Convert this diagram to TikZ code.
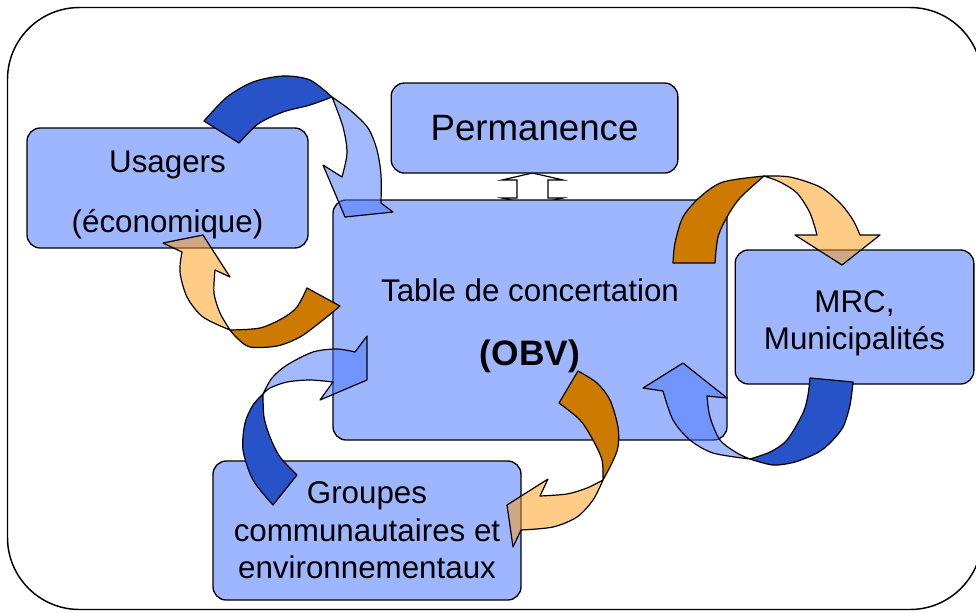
\documentclass[tikz,border=0pt]{standalone}
\usepackage{fontspec}
\setmainfont{Liberation Sans}
\usepackage{tikz}
\usetikzlibrary{positioning}

\definecolor{boxblue}{RGB}{158,182,255}
\definecolor{darkblue}{RGB}{40,82,200}
\definecolor{paleblue}{RGB}{71,115,255}
\definecolor{darkorange}{RGB}{204,122,0}
\definecolor{paleorange}{RGB}{255,153,17}

\tikzset{
  boxnode/.style={draw, line width=1pt, fill=boxblue, rounded corners=10pt, align=center,
    inner sep=0pt, font=\fontsize{23.5}{28}\selectfont},
  band/.style={draw, line width=0.9pt, line join=round},
  bluetail/.style={band, fill=darkblue},
  bluehead/.style={band, fill=paleblue, fill opacity=0.5},
  orangetail/.style={band, fill=darkorange},
  orangehead/.style={band, fill=paleorange, fill opacity=0.5},
}

\begin{document}
\begin{tikzpicture}[x=0.75pt,y=-0.75pt]
      \path[use as bounding box, clip] (0,0) rectangle (976,612);
      \draw[line width=1.1pt, rounded corners=54pt] (7.5,7.5) rectangle (982,609.5);

      % double arrow between Permanence and the table
      \draw[line width=0.9pt, fill=white] (532.5,173) -- (563,180) -- (548,180) -- (548,198) -- (563,198)
        -- (532.5,205) -- (502,198) -- (517,198) -- (517,180) -- (502,180) -- cycle;

      \node[boxnode, minimum width=215pt, minimum height=67.5pt, font=\fontsize{27.5}{33}\selectfont]
        (perm) at (534.5,128) {Permanence};
      \node[boxnode, minimum width=210.75pt, minimum height=90pt] (usagers) at (167.5,188)
        {\rule{0pt}{26pt}Usagers\\[17pt](économique)};
      \node[boxnode, minimum width=295.5pt, minimum height=180pt] (table) at (530,320)
        {\rule{0pt}{25pt}Table de concertation\\[20pt]{\fontsize{26.5}{28}\selectfont\bfseries (OBV)}};
      \node[boxnode, minimum width=179pt, minimum height=100.5pt] (mrc) at (854.5,317)
        {\rule{0pt}{26pt}MRC,\\Municipalités};
      \node[boxnode, minimum width=231pt, minimum height=104.25pt] (groupes) at (367,530.5)
        {Groupes\\communautaires et\\environnementaux};

      % usagers -> table
      \draw[bluetail] (239,143) -- (204,121) -- plot[smooth] coordinates {(204,121) (227,97) (253,82) (283,76) (310,80) (332,97)}
        -- plot[smooth] coordinates {(332,97) (310,105) (283,112) (258,124) (239,143)} -- cycle;
      \draw[bluehead] (332,97) -- plot[smooth] coordinates {(332,97) (350,110) (368,128) (377,150) (381,175) (381,203)}
        -- (393,212) -- (345,217) -- (323,165) -- (342,177)
        -- plot[smooth] coordinates {(342,177) (347,153) (343,127) (332,97)} -- cycle;

      % table -> usagers
      \draw[orangetail] (307,288) -- (340,306) -- plot[smooth] coordinates {(340,306) (323,320) (300,337) (277,346) (250,347) (237,338) (230,330)}
        -- plot[smooth] coordinates {(230,330) (260,328) (283,318) (297,307) (307,288)} -- cycle;
      \draw[orangehead] (230,330) -- plot[smooth] coordinates {(230,330) (203,317) (187,297) (180,272) (182,252)}
        -- (163,243) -- (203,235) -- (230,277) -- (215,270)
        -- plot[smooth] coordinates {(215,270) (214,293) (220,313) (230,330)} -- cycle;

      % groupes -> table
      \draw[bluetail] (297,475) -- (273,505) -- plot[smooth] coordinates {(273,505) (253,480) (243,450) (245,423) (253,405) (263,394)}
        -- plot[smooth] coordinates {(263,394) (264,417) (270,437) (280,457) (297,475)} -- cycle;
      \draw[bluehead] (263,394) -- plot[smooth] coordinates {(263,394) (272,378) (287,365) (313,352) (337,349) (355,352)}
        -- (367,336) -- (367,380) -- (320,400) -- (333,382)
        -- plot[smooth] coordinates {(333,382) (310,380) (287,382) (270,388) (263,394)} -- cycle;

      % table -> groupes
      \draw[orangetail] (559,403) -- (578,371) -- plot[smooth] coordinates {(578,371) (597,383) (610,400) (618,427) (618,447) (612,463) (603,480)}
        -- plot[smooth] coordinates {(603,480) (602,460) (593,440) (580,420) (559,403)} -- cycle;
      \draw[orangehead] (603,480) -- plot[smooth] coordinates {(603,480) (593,500) (577,517) (553,527) (521,530)}
        -- (513,547) -- (507,505) -- (548,479) -- (540,496)
        -- plot[smooth] coordinates {(540,496) (567,494) (587,488) (603,480)} -- cycle;

      % table -> mrc
      \draw[orangetail] (715,263) -- (673,263) -- plot[smooth] coordinates {(673,263) (675,243) (683,217) (700,197) (723,182) (764,176)}
        -- plot[smooth] coordinates {(764,176) (740,198) (727,217) (718,237) (715,263)} -- cycle;
      \draw[orangehead] (764,176) -- plot[smooth] coordinates {(764,176) (790,177) (820,187) (840,203) (853,220) (860,235)}
        -- (880,235) -- (842,265) -- (795,235) -- (817,235)
        -- plot[smooth] coordinates {(817,235) (810,213) (797,193) (780,182) (764,176)} -- cycle;

      % mrc -> table
      \draw[bluetail] (810,378) -- (853,382) -- plot[smooth] coordinates {(853,382) (850,405) (843,427) (830,443) (817,453) (795,462) (773,465) (750,459)}
        -- plot[smooth] coordinates {(750,459) (770,452) (787,440) (803,413) (808,395) (810,378)} -- cycle;
      \draw[bluehead] (750,459) -- plot[smooth] coordinates {(750,459) (713,453) (690,440) (673,420) (663,391)}
        -- (643,388) -- (683,363) -- (727,398) -- (707,396)
        -- plot[smooth] coordinates {(707,396) (710,417) (720,440) (737,453) (750,459)} -- cycle;
\end{tikzpicture}
\end{document}
